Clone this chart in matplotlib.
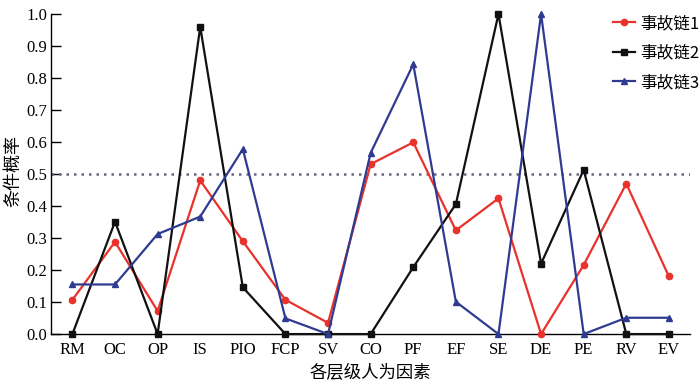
import matplotlib
matplotlib.use("Agg")
import matplotlib.pyplot as plt

categories = ["RM", "OC", "OP", "IS", "PIO", "FCP", "SV", "CO", "PF", "EF", "SE", "DE", "PE", "RV", "EV"]
chain1 = [0.107, 0.288, 0.072, 0.48, 0.29, 0.107, 0.035, 0.531, 0.599, 0.324, 0.424, 0.0, 0.216, 0.47, 0.18]
chain2 = [0.0, 0.351, 0.0, 0.96, 0.146, 0.0, 0.0, 0.0, 0.209, 0.406, 1.0, 0.22, 0.513, 0.0, 0.0]
chain3 = [0.155, 0.155, 0.3125, 0.367, 0.578, 0.049, 0.0, 0.566, 0.843, 0.101, 0.0, 1.0, 0.0, 0.051, 0.051]
series_names = ["事故链1", "事故链2", "事故链3"]
yticks = [0.0, 0.1, 0.2, 0.3, 0.4, 0.5, 0.6, 0.7, 0.8, 0.9, 1.0]
threshold = 0.5

serif = ["Liberation Serif", "DejaVu Serif"]
cjk = ["Noto Sans CJK SC", "DejaVu Sans"]
mixed = ["Noto Sans CJK SC", "Liberation Serif"]

fig = plt.figure(figsize=(7, 3.84), dpi=100)
ax = fig.add_axes([0.073, 0.130, 0.913, 0.8335])

x = list(range(len(categories)))
ax.plot(x, chain1, color="#e8322b", marker="o", markersize=5, lw=1.6, label=series_names[0], clip_on=False, zorder=3)
ax.plot(x, chain2, color="#111111", marker="s", markersize=5, lw=1.6, label=series_names[1], clip_on=False, zorder=3)
ax.plot(x, chain3, color="#2f3b91", marker="^", markersize=6, lw=1.6, label=series_names[2], clip_on=False, zorder=3)
ax.axhline(threshold, color="#6e6480", lw=1.8, ls=(0, (1, 2)), zorder=2)

ax.set_xlim(-0.5, 14.5)
ax.set_ylim(0, 1.0)
ax.set_xticks(x)
ax.set_xticklabels(categories, fontfamily=serif, fontsize=12)
ax.tick_params(axis="x", length=0, pad=6)
ax.set_yticks(yticks)
ax.set_yticklabels([f"{v:.1f}" for v in yticks], fontfamily=serif, fontsize=12)
ax.tick_params(axis="y", direction="in", length=7, width=1, pad=3)
for s in ["top", "right"]:
    ax.spines[s].set_visible(False)
for s in ["left", "bottom"]:
    ax.spines[s].set_linewidth(1.0)

fig.text(13 / 700, 1 - 171 / 384, "条件概率", fontfamily=cjk, fontsize=13,
         rotation=90, ha="center", va="center")
ax.set_xlabel("各层级人为因素", fontfamily=cjk, fontsize=12.5, labelpad=4)

handles, labels = ax.get_legend_handles_labels()
for h in handles:
    h.set_markersize(4.5)
leg = fig.legend(handles, labels, loc="upper left", bbox_to_anchor=(613 / 700, 1 - 15 / 384),
                 frameon=False, borderpad=0, borderaxespad=0,
                 prop={"family": mixed, "size": 12}, handlelength=1.3, handletextpad=0.35,
                 labelspacing=0.75)

fig.savefig("out.png", dpi=100)
